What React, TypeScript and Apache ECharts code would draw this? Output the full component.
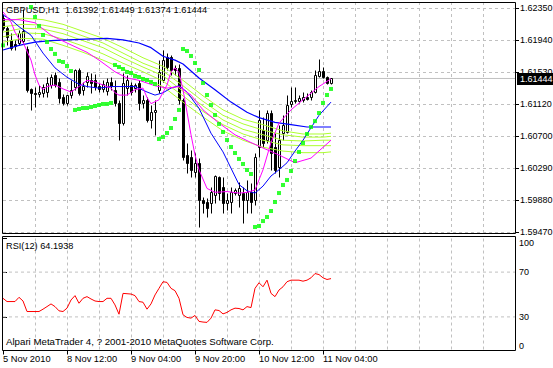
import React, { useEffect, useRef } from 'react';
import * as echarts from 'echarts';

const FONT = '"Liberation Sans", Arial, sans-serif';

const timeLabels = ['5 Nov 2010', '8 Nov 12:00', '9 Nov 04:00', '9 Nov 20:00', '10 Nov 12:00', '11 Nov 04:00'];
const timeTicks = [0, 16, 32, 48, 64, 80];
const priceLabels = ['1.59470', '1.59880', '1.60290', '1.60700', '1.61120', '1.61530', '1.61940', '1.62350'];
const rsiLevels = [0, 30, 70, 100];

const opens = [
  1.62222, 1.62093, 1.61939, 1.61887, 1.61900, 1.61926, 1.61823, 1.61309, 1.61257, 1.61244,
  1.61257, 1.61270, 1.61360, 1.61489, 1.61399, 1.61206, 1.61129, 1.61231, 1.61334, 1.61553,
  1.61296, 1.61399, 1.61424, 1.61424, 1.61347, 1.61309, 1.61283, 1.61399, 1.61296, 1.61129,
  1.60871, 1.61321, 1.61360, 1.61321, 1.61386, 1.61129, 1.61167, 1.60910, 1.61013, 1.61296,
  1.61424, 1.61720, 1.61720, 1.61579, 1.61579, 1.61167, 1.60460, 1.60434, 1.60241, 1.60357,
  1.59881, 1.59856, 1.59843, 1.59946, 1.60177, 1.60049, 1.59843, 1.59856, 1.59971, 1.59946,
  1.59971, 1.59881, 1.59984, 1.59881, 1.60563, 1.60781, 1.60653, 1.61000, 1.60563, 1.60306,
  1.60743, 1.60756, 1.61116, 1.61154, 1.61154, 1.61167, 1.61206, 1.61206, 1.61270, 1.61476,
  1.61540, 1.61463, 1.61392,
];
const highs = [
  1.62273, 1.62119, 1.62029, 1.61939, 1.62067, 1.62337, 1.61861, 1.61321, 1.61334, 1.61360,
  1.61373, 1.61463, 1.61501, 1.61527, 1.61450, 1.61244, 1.61231, 1.61424, 1.61566, 1.61579,
  1.61399, 1.61527, 1.61514, 1.61501, 1.61386, 1.61424, 1.61450, 1.61463, 1.61424, 1.61167,
  1.61514, 1.61489, 1.61399, 1.61386, 1.61424, 1.61231, 1.61206, 1.61103, 1.61167, 1.61681,
  1.61810, 1.61771, 1.61746, 1.61617, 1.61630, 1.61193, 1.60614, 1.60524, 1.60486, 1.60421,
  1.59920, 1.59907, 1.60049, 1.60203, 1.60190, 1.60177, 1.59971, 1.60049, 1.60036, 1.60113,
  1.60049, 1.60139, 1.60100, 1.60486, 1.61039, 1.60949, 1.61039, 1.61039, 1.60743, 1.60846,
  1.60974, 1.61231, 1.61334, 1.61334, 1.61231, 1.61270, 1.61257, 1.61296, 1.61553, 1.61694,
  1.61591, 1.61476, 1.61449,
];
const lows = [
  1.62067, 1.61874, 1.61810, 1.61810, 1.61874, 1.61887, 1.61270, 1.61039, 1.61077, 1.61206,
  1.61206, 1.61206, 1.61321, 1.61334, 1.61129, 1.61103, 1.61103, 1.61193, 1.61296, 1.61231,
  1.61231, 1.61334, 1.61257, 1.61296, 1.61270, 1.61270, 1.61231, 1.61296, 1.61090, 1.60653,
  1.60846, 1.61231, 1.61231, 1.61270, 1.61039, 1.61064, 1.60884, 1.60807, 1.60717, 1.61257,
  1.61399, 1.61553, 1.61489, 1.61489, 1.61116, 1.60396, 1.60229, 1.60177, 1.60177, 1.59534,
  1.59714, 1.59663, 1.59714, 1.59843, 1.59881, 1.59714, 1.59753, 1.59714, 1.59946, 1.59791,
  1.59586, 1.59714, 1.59714, 1.59817, 1.60434, 1.60563, 1.60614, 1.60267, 1.60229, 1.60177,
  1.60653, 1.60743, 1.61077, 1.61129, 1.61129, 1.61141, 1.61167, 1.61167, 1.61257, 1.61463,
  1.61450, 1.61373, 1.61374,
];
const closes = [
  1.62093, 1.61977, 1.61836, 1.61861, 1.62029, 1.62054, 1.61296, 1.61257, 1.61244, 1.61270,
  1.61334, 1.61386, 1.61463, 1.61360, 1.61193, 1.61129, 1.61231, 1.61296, 1.61553, 1.61257,
  1.61347, 1.61476, 1.61386, 1.61334, 1.61309, 1.61373, 1.61399, 1.61347, 1.61129, 1.60871,
  1.61386, 1.61424, 1.61270, 1.61360, 1.61129, 1.61167, 1.60910, 1.61013, 1.61039, 1.61527,
  1.61681, 1.61591, 1.61553, 1.61553, 1.61167, 1.60434, 1.60357, 1.60267, 1.60357, 1.59881,
  1.59843, 1.59779, 1.59984, 1.60190, 1.59971, 1.59843, 1.59881, 1.59984, 1.60010, 1.60036,
  1.59881, 1.59984, 1.59856, 1.60434, 1.60910, 1.60614, 1.61000, 1.60486, 1.60267, 1.60653,
  1.60846, 1.61103, 1.61154, 1.61167, 1.61193, 1.61206, 1.61180, 1.61270, 1.61489, 1.61540,
  1.61463, 1.61386, 1.61444,
];

const sar = [
  1.6187, null, null, null, null, null, null, 1.62363, 1.62234, 1.62119,
  1.62003, 1.61913, 1.61823, 1.61759, 1.61669, 1.61656, 1.61604, 1.61540, 1.61039, 1.61051,
  1.61064, 1.61064, 1.61077, 1.61090, 1.61103, 1.61116, 1.61116, 1.61129, 1.61617, 1.61591,
  1.61566, 1.61527, 1.61514, 1.61476, 1.61463, 1.61437, 1.61424, 1.61399, 1.61373, 1.60666,
  1.60691, 1.60743, 1.60807, 1.60923, 1.61039, 1.61823, 1.61797, 1.61733, 1.61643, 1.61553,
  1.61386, 1.61231, 1.61103, 1.60974, 1.60859, 1.60756, 1.60653, 1.60563, 1.60486, 1.60409,
  1.60344, 1.60267, 1.60216, 1.59534, 1.59547, 1.59611, 1.59663, 1.59740, 1.59856, 1.59971,
  1.60074, 1.60139, 1.60254, 1.60383, 1.60499, 1.60614, 1.60730, 1.60820, 1.60896, 1.61000,
  1.61129, 1.61231, 1.61309,
];

const rsi = [
  46.6, 43.7, 43.7, 43.7, 47.5, 44.2, 34.8, 34.8, 34.8, 34.8,
  36.9, 39.2, 41.6, 39.2, 35.4, 34.8, 37.8, 45.1, 49.0, 42.2,
  46.6, 48.1, 46.0, 44.2, 43.7, 43.7, 46.6, 46.6, 40.7, 32.4,
  51.0, 50.7, 50.4, 49.0, 43.7, 43.1, 36.9, 41.6, 49.6, 55.5,
  61.4, 60.8, 55.5, 53.4, 46.6, 31.9, 29.5, 28.9, 31.3, 26.0,
  25.4, 25.1, 28.9, 36.3, 35.7, 32.7, 34.0, 36.3, 37.8, 37.5,
  36.3, 39.2, 38.3, 55.5, 60.5, 56.9, 62.8, 51.0, 48.1, 54.0,
  56.9, 61.4, 62.8, 62.8, 62.8, 61.9, 62.8, 64.9, 68.7, 67.8,
  64.9, 63.4, 64.19,
];

const blueSlow = [
  [0, 1.6181], [4, 1.6187], [8, 1.6191], [12, 1.6193], [16, 1.6194], [21, 1.6195], [26, 1.6196],
  [30, 1.6194], [34, 1.6190], [37, 1.6184], [40, 1.6173], [43, 1.6168], [45, 1.6163], [49, 1.6145],
  [53, 1.6130], [57, 1.6114], [61, 1.6101], [64, 1.6094], [68, 1.6088], [72, 1.6085], [76, 1.6082],
  [82, 1.6082],
];
const blueFast = [
  [0, 1.6226], [2, 1.6220], [4, 1.6211], [7, 1.6200], [10, 1.6177], [13, 1.6158], [16, 1.6146],
  [19, 1.6137], [21, 1.6134], [24, 1.6132], [27, 1.6134], [30, 1.6134], [33, 1.6134], [36, 1.6127],
  [38, 1.6123], [40, 1.6126], [42, 1.6132], [44, 1.6135], [46, 1.6127], [49, 1.6106], [52, 1.6074],
  [55, 1.6050], [57, 1.6029], [59, 1.6008], [61, 1.6000], [63, 1.5997], [65, 1.6006], [67, 1.6019],
  [69, 1.6027], [71, 1.6036], [73, 1.6051], [75, 1.6065], [77, 1.6081], [79, 1.6097], [82, 1.6114],
];
const magentaFast = [
  [0, 1.6230], [2, 1.6217], [3, 1.6204], [4, 1.6195], [5, 1.6191], [7, 1.6168], [8, 1.6149],
  [9, 1.6136], [10, 1.6130], [11, 1.6134], [13, 1.6136], [15, 1.6131], [17, 1.6127], [19, 1.6134],
  [21, 1.6142], [23, 1.6140], [25, 1.6136], [27, 1.6132], [28, 1.6126], [29, 1.6123], [31, 1.6123],
  [33, 1.6130], [35, 1.6132], [36, 1.6120], [37, 1.6112], [39, 1.6117], [41, 1.6136], [42, 1.6153],
  [43, 1.6158], [44, 1.6152], [45, 1.6130], [46, 1.6101], [47, 1.6072], [48, 1.6046], [49, 1.6027],
  [51, 1.6003], [53, 1.5998], [56, 1.5999], [59, 1.5997], [61, 1.5998], [63, 1.6001], [65, 1.6027],
  [67, 1.6062], [69, 1.6087], [72, 1.6104], [75, 1.6117], [79, 1.6134], [82, 1.6144],
];
const magentaSlow = [
  [0, 1.6220], [4, 1.6220], [8, 1.6216], [12, 1.6200], [16, 1.6190], [21, 1.6178], [24, 1.6168],
  [28, 1.6153], [31, 1.6145], [34, 1.6142], [38, 1.6135], [41, 1.6132], [44, 1.6134], [47, 1.6123],
  [50, 1.6104], [54, 1.6087], [58, 1.6072], [62, 1.6062], [65, 1.6055], [69, 1.6046], [73, 1.6036],
  [77, 1.6042], [82, 1.6065],
];

const ribbonBars = [0, 5, 10, 15, 20, 25, 30, 35, 40, 45, 50, 55, 60, 65, 70, 75, 80, 82];
const ribbon1 = [1.6217, 1.6222, 1.6220, 1.6214, 1.6205, 1.6196, 1.6184, 1.6171, 1.6160, 1.6142, 1.6122, 1.6104, 1.6092, 1.6085, 1.6077, 1.6073, 1.6073, 1.6074];
const ribbon2 = [1.6211, 1.6214, 1.6213, 1.6208, 1.6199, 1.6190, 1.6177, 1.6164, 1.6154, 1.6135, 1.6115, 1.6097, 1.6086, 1.6078, 1.6072, 1.6069, 1.6069, 1.6070];
const ribbon3 = [1.6204, 1.6209, 1.6208, 1.6202, 1.6193, 1.6184, 1.6171, 1.6159, 1.6148, 1.6128, 1.6109, 1.6091, 1.6079, 1.6072, 1.6065, 1.6064, 1.6065, 1.6065];
const ribbon4 = [1.6198, 1.6203, 1.6202, 1.6195, 1.6186, 1.6176, 1.6164, 1.6153, 1.6141, 1.6122, 1.6102, 1.6085, 1.6073, 1.6065, 1.6059, 1.6058, 1.6058, 1.6058];
const ribbon5 = [1.6191, 1.6196, 1.6195, 1.6187, 1.6178, 1.6168, 1.6157, 1.6145, 1.6134, 1.6114, 1.6095, 1.6077, 1.6065, 1.6056, 1.6051, 1.6049, 1.6049, 1.6050];

const lastPrice = 1.61444;
const titleText = 'GBPUSD,H1  1.61392 1.61449 1.61374 1.61444';
const rsiText = 'RSI(12) 64.1938';
const footerText = 'Alpari MetaTrader 4, ? 2001-2010 MetaQuotes Software Corp.';

const PRICE_MIN = 1.5947;
const PRICE_MAX = 1.62427;

export default function App() {
  const ref = useRef<HTMLDivElement>(null);
  useEffect(() => {
    if (!ref.current) return;
    const chart = echarts.init(ref.current, null, { renderer: 'svg' });
    const txt = (size: number) => ({ color: '#000', fontFamily: FONT, fontSize: size, fontWeight: 'normal' as const });
    const dash = { color: '#c0c0c0', width: 1, type: [3, 3] as any };

    const candleData = opens.map((o, i) => [i, o, highs[i], lows[i], closes[i]]);
    const sarData = sar.map((v, i) => (v == null ? null : [i, v])).filter((d) => d != null);
    const rsiData = rsi.map((v, i) => [i, v]);
    const ribbons = [ribbon1, ribbon2, ribbon3, ribbon4, ribbon5].map((arr) => arr.map((v, k) => [ribbonBars[k], v]));

    const lineSeries = (data: any[], color: string, width = 1, z = 3) => ({
      type: 'line',
      xAxisIndex: 0,
      yAxisIndex: 0,
      data,
      symbol: 'none',
      silent: true,
      lineStyle: { color, width },
      z,
    });

    const option: any = {
      animation: false,
      backgroundColor: '#ffffff',
      title: [
        { text: titleText, left: 6, top: 5, padding: 0, z: 0, textStyle: txt(9.3) },
        { text: rsiText, left: 6, top: 241, padding: 0, textStyle: txt(9.2) },
        { text: footerText, left: 6, top: 336, padding: 0, textStyle: txt(9.7) },
      ],
      grid: [
        { left: 3, top: 2, width: 512, height: 230, outerBoundsMode: 'none', containLabel: false },
        { left: 3, top: 238.5, width: 512, height: 112, outerBoundsMode: 'none', containLabel: false },
      ],
      xAxis: [
        {
          gridIndex: 0, type: 'value', min: 0, max: 128, interval: 8, position: 'bottom',
          axisLine: { show: false }, axisTick: { show: false }, axisLabel: { show: false },
          splitLine: { show: true, lineStyle: dash, showMinLine: false, showMaxLine: false },
        },
        {
          gridIndex: 1, type: 'value', min: 0, max: 128, interval: 8, position: 'top',
          axisLine: { show: false }, axisTick: { show: false }, axisLabel: { show: false },
          splitLine: { show: true, lineStyle: dash, showMinLine: false, showMaxLine: false },
        },
        {
          gridIndex: 1, type: 'value', min: 0, max: 128, position: 'bottom',
          axisLine: { show: false },
          axisTick: { show: true, length: 4, lineStyle: { color: '#000' }, customValues: timeTicks },
          axisLabel: {
            ...txt(9.3), margin: 4, align: 'left', customValues: timeTicks,
            formatter: (v: number) => timeLabels[timeTicks.indexOf(v)] ?? '',
          },
          splitLine: { show: false },
        },
      ],
      yAxis: [
        {
          gridIndex: 0, type: 'value', min: PRICE_MIN, max: PRICE_MAX, position: 'left', show: false,
          splitLine: { show: false },
        },
        {
          gridIndex: 0, type: 'value', min: 0, max: 7.1875, interval: 1, position: 'right',
          axisLine: { show: false },
          axisTick: { show: true, length: 4, lineStyle: { color: '#000' } },
          axisLabel: {
            ...txt(9), margin: 5, showMaxLabel: false,
            formatter: (v: number) => (Number.isInteger(v) ? priceLabels[v] ?? '' : ''),
          },
          splitLine: { show: true, lineStyle: dash, showMinLine: true, showMaxLine: false },
        },
        {
          gridIndex: 1, type: 'value', min: 0, max: 100, position: 'right',
          axisLine: { show: false },
          axisTick: { show: true, length: 4, lineStyle: { color: '#000' }, customValues: rsiLevels },
          axisLabel: {
            ...txt(9), margin: 4, customValues: rsiLevels,
            verticalAlignMaxLabel: 'top', verticalAlignMinLabel: 'bottom',
          },
          splitLine: { show: false },
        },
      ],
      series: [
        {
          type: 'custom',
          xAxisIndex: 0,
          yAxisIndex: 0,
          data: candleData,
          encode: { x: 0, y: [1, 2, 3, 4] },
          silent: true,
          z: 2,
          renderItem: (params: any, api: any) => {
            const i = api.value(0);
            const o = api.value(1);
            const h = api.value(2);
            const l = api.value(3);
            const c = api.value(4);
            const pO = api.coord([i, o]);
            const pC = api.coord([i, c]);
            const pH = api.coord([i, h]);
            const pL = api.coord([i, l]);
            const cx = Math.floor(pO[0]) + 0.5;
            const bull = c >= o;
            const top = Math.round(Math.min(pO[1], pC[1])) + 0.5;
            const bot = Math.round(Math.max(pO[1], pC[1])) + 0.5;
            return {
              type: 'group',
              children: [
                {
                  type: 'line',
                  shape: { x1: cx, y1: Math.round(pH[1]) + 0.5, x2: cx, y2: Math.round(pL[1]) + 0.5 },
                  style: { stroke: '#000', lineWidth: 1 },
                },
                {
                  type: 'rect',
                  shape: { x: cx - 1, y: top, width: 2, height: Math.max(bot - top, 0) },
                  style: { fill: bull ? '#ffffff' : '#000000', stroke: '#000', lineWidth: 1 },
                },
              ],
            };
          },
        },
        lineSeries([[0, lastPrice], [128, lastPrice]], '#c0c0c0', 1, 1),
        lineSeries(ribbons[0], '#adff2f'),
        lineSeries(ribbons[1], '#adff2f'),
        lineSeries(ribbons[2], '#adff2f'),
        lineSeries(ribbons[3], '#adff2f'),
        lineSeries(ribbons[4], '#adff2f'),
        lineSeries(blueSlow, '#0000ff', 1.2),
        lineSeries(blueFast, '#0000ff'),
        lineSeries(magentaSlow, '#ff00ff'),
        lineSeries(magentaFast, '#ff00ff'),
        {
          type: 'scatter',
          xAxisIndex: 0,
          yAxisIndex: 0,
          data: sarData,
          symbol: 'rect',
          symbolSize: 4,
          silent: true,
          itemStyle: { color: '#00ff00' },
          z: 5,
        },
        {
          type: 'line',
          xAxisIndex: 1,
          yAxisIndex: 2,
          data: rsiData,
          symbol: 'none',
          silent: true,
          lineStyle: { color: '#ff0000', width: 1 },
          z: 3,
        },
        {
          type: 'line',
          xAxisIndex: 1,
          yAxisIndex: 2,
          data: [[0, 30], [128, 30]],
          symbol: 'none',
          silent: true,
          lineStyle: dash,
          z: 1,
        },
        {
          type: 'line',
          xAxisIndex: 1,
          yAxisIndex: 2,
          data: [[0, 70], [128, 70]],
          symbol: 'none',
          silent: true,
          lineStyle: dash,
          z: 1,
        },
      ],
      graphic: [
        { type: 'rect', silent: true, z: 50, shape: { x: 2.5, y: 2.5, width: 513, height: 231 }, style: { fill: 'none', stroke: '#000', lineWidth: 1 } },
        { type: 'rect', silent: true, z: 50, shape: { x: 2.5, y: 236.5, width: 513, height: 114 }, style: { fill: 'none', stroke: '#000', lineWidth: 1 } },
        { type: 'rect', silent: true, z: 60, shape: { x: 517, y: 73, width: 36, height: 12 }, style: { fill: '#000' } },
        {
          type: 'text', silent: true, z: 61, x: 520, y: 79,
          style: { text: lastPrice.toFixed(5), fill: '#fff', fontFamily: FONT, fontSize: 9, verticalAlign: 'middle' },
        },
      ],
    };
    chart.setOption(option);
    return () => chart.dispose();
  }, []);
  return <div ref={ref} style={{ position: 'fixed', left: 0, top: 0, width: 553, height: 368 }} />;
}
